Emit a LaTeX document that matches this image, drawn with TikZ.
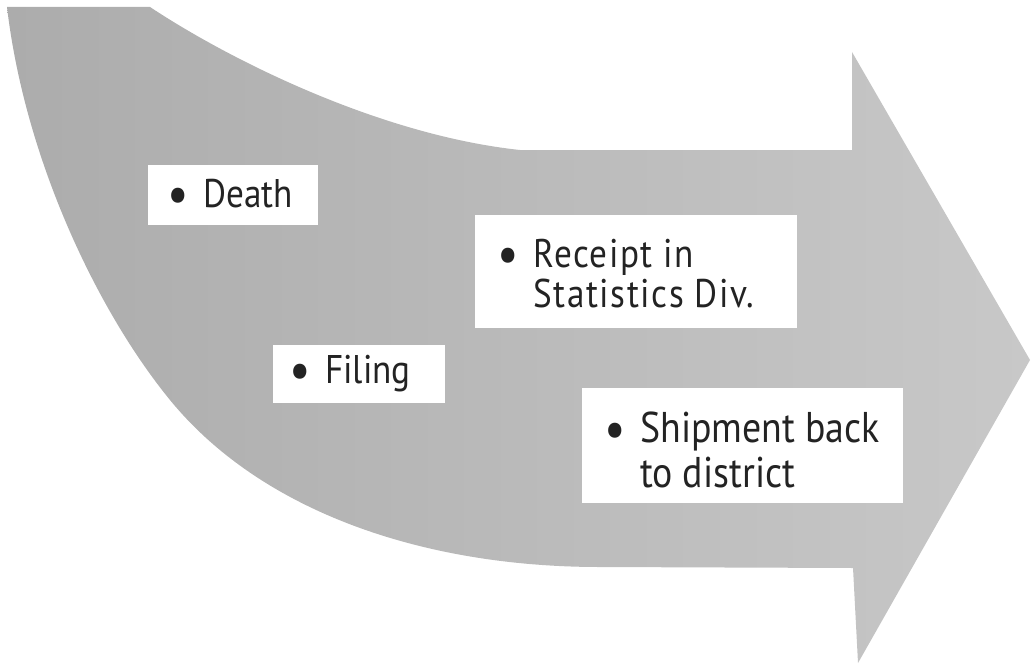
\documentclass[tikz,border=0pt]{standalone}
\usepackage{fontspec}
\setmainfont{PT Sans}[FakeStretch=0.88]
\definecolor{arrowdark}{RGB}{172,172,172}
\definecolor{arrowlight}{RGB}{200,200,200}
\definecolor{inkgray}{RGB}{35,35,35}
\newcommand\bul{\llap{\makebox[0pt]{\raisebox{-5pt}{\fontsize{54}{40}\selectfont •}}\hspace{25pt}}}
\begin{document}
\begin{tikzpicture}[x=1pt,y=-1pt,
  whitebox/.style={fill=white, draw=none, inner sep=0pt, rectangle},
  itemtext/.style={anchor=base west, inner sep=0pt, text=inkgray, font=\fontsize{40}{40}\selectfont},
  bigtext/.style={itemtext, font=\fontsize{43}{45}\selectfont}]
\useasboundingbox (0,0) rectangle (1035,666);
% the big curved arrow
\path[left color=arrowdark, right color=arrowlight]
  (7,7) -- (150,7) .. controls (230,60) and (380,135) .. (520,150)
  -- (852,150) -- (852,52) -- (1030,360) -- (858,663) -- (853,568)
  -- (600,567) .. controls (420,567) and (260,510) .. (170,400)
  .. controls (98,312) and (25,160) .. (7,7) -- cycle;
% white boxes
\node[whitebox, minimum width=170pt, minimum height=60pt] (deathbox) at (233,195) {};
\node[whitebox, minimum width=322pt, minimum height=113pt] (receiptbox) at (636,271.5) {};
\node[whitebox, minimum width=172pt, minimum height=58pt] (filingbox) at (359,374) {};
\node[whitebox, minimum width=321pt, minimum height=115pt] (shipbox) at (742.5,445.5) {};
% texts
\node[itemtext] (death) at (203,207) {\bul Death};
\node[itemtext] (filing) at (325,383) {\bul Filing};
\node[itemtext] (receipt) at (533,267) {\addfontfeature{LetterSpace=4}\begin{tabular}[t]{@{}l@{}}\bul Receipt in\\Statistics Div.\end{tabular}};
\node[bigtext] (ship) at (640,442) {\begin{tabular}[t]{@{}l@{}}\bul Shipment back\\to district\end{tabular}};
\end{tikzpicture}
\end{document}
